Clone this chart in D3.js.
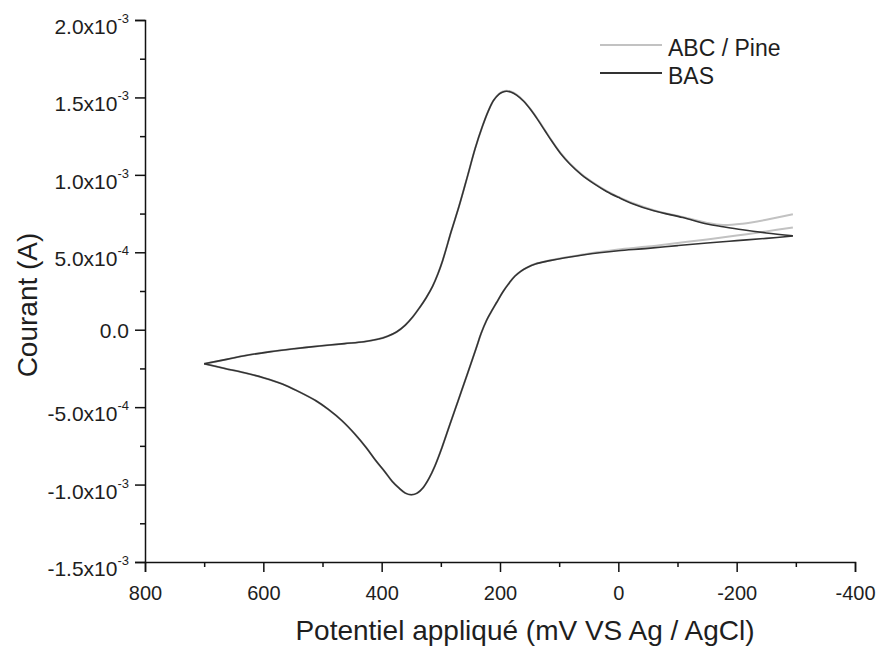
<!DOCTYPE html>
<html>
<head>
<meta charset="utf-8">
<script src="https://cdn.jsdelivr.net/npm/d3@7"></script>
<style>
  body { margin: 0; background: #fff; }
  svg text { font-family: "Liberation Sans", Arial, sans-serif; fill: #1e1e1e; }
</style>
</head>
<body>
<svg id="chart" width="881" height="646"></svg>
<script>
// Potentiel (mV vs Ag/AgCl) : balayage aller (700 -> -295) puis retour (-295 -> 700)
const potFwd = [700, 660, 632, 590, 548, 505, 463, 430, 407, 390, 375, 360, 348, 336, 325, 314, 305, 297, 282, 269, 255, 242, 230, 220, 211, 202, 195, 189, 182, 172, 160, 148, 136, 124, 112, 98, 82, 62, 40, 20, 0, -24, -60, -109, -150, -177, -210, -250, -295];
const potRev = [-295, -250, -200, -150, -100, -50, 0, 32, 60, 90, 116, 140, 155, 165, 175, 184, 195, 206, 215, 223, 232, 240, 255, 270, 285, 298, 310, 320, 330, 340, 350, 360, 370, 382, 395, 410, 426, 445, 467, 490, 511, 540, 568, 600, 632, 665, 700];

// Courant en unités de 1e-3 A
const basFwd = [-0.22, -0.19, -0.168, -0.143, -0.123, -0.105, -0.09, -0.078, -0.062, -0.042, -0.015, 0.03, 0.08, 0.142, 0.205, 0.28, 0.36, 0.446, 0.64, 0.8, 0.99, 1.17, 1.31, 1.41, 1.48, 1.52, 1.535, 1.54, 1.535, 1.515, 1.475, 1.42, 1.355, 1.285, 1.215, 1.14, 1.07, 1.0, 0.94, 0.893, 0.855, 0.814, 0.768, 0.724, 0.683, 0.665, 0.645, 0.625, 0.607];
const basRev = [0.605, 0.59, 0.575, 0.56, 0.543, 0.525, 0.51, 0.497, 0.483, 0.465, 0.446, 0.425, 0.4, 0.377, 0.345, 0.304, 0.245, 0.174, 0.115, 0.058, -0.025, -0.116, -0.285, -0.45, -0.615, -0.76, -0.88, -0.96, -1.02, -1.055, -1.066, -1.055, -1.025, -0.98, -0.915, -0.845, -0.762, -0.675, -0.588, -0.515, -0.459, -0.4, -0.35, -0.31, -0.278, -0.25, -0.22];
const abcFwd = [-0.22, -0.19, -0.168, -0.143, -0.123, -0.105, -0.09, -0.078, -0.062, -0.042, -0.015, 0.03, 0.08, 0.142, 0.205, 0.28, 0.36, 0.446, 0.64, 0.8, 0.99, 1.17, 1.31, 1.41, 1.48, 1.522, 1.538, 1.543, 1.538, 1.518, 1.478, 1.423, 1.358, 1.288, 1.218, 1.143, 1.073, 1.003, 0.943, 0.896, 0.858, 0.818, 0.772, 0.728, 0.69, 0.676, 0.685, 0.71, 0.745];
const abcRev = [0.66, 0.635, 0.608, 0.583, 0.56, 0.537, 0.518, 0.502, 0.485, 0.466, 0.447, 0.426, 0.4, 0.377, 0.345, 0.304, 0.245, 0.174, 0.115, 0.058, -0.025, -0.116, -0.285, -0.45, -0.615, -0.76, -0.88, -0.96, -1.02, -1.055, -1.066, -1.055, -1.025, -0.98, -0.915, -0.845, -0.762, -0.675, -0.588, -0.515, -0.459, -0.4, -0.35, -0.31, -0.278, -0.25, -0.22];

const seriesNames = ["ABC / Pine", "BAS"];
const seriesColors = ["#c2c2c2", "#333333"];

const xTicks = [800, 600, 400, 200, 0, -200, -400];
const xMinor = [700, 500, 300, 100, -100, -300];
const yTicks = [-1.5, -1.0, -0.5, 0, 0.5, 1.0, 1.5, 2.0];
const yMinor = [-1.25, -0.75, -0.25, 0.25, 0.75, 1.25, 1.75];

const xTitle = "Potentiel appliqué (mV VS Ag / AgCl)";
const yTitle = "Courant (A)";

const svg = d3.select("#chart");

const x = d3.scaleLinear().domain([800, -400]).range([145, 855]);
const y = d3.scaleLinear().domain([-1.5, 2.0]).range([562, 20]);

// axe X
const gx = svg.append("g").attr("transform", `translate(0,${y(-1.5)})`);
gx.call(d3.axisBottom(x).tickValues(xTicks).tickSize(10).tickPadding(14).tickFormat(d => d));
gx.selectAll(".tick text").style("font-size", "20px").attr("fill", "#1e1e1e");
gx.append("g").call(d3.axisBottom(x).tickValues(xMinor).tickSize(5).tickFormat(""))
  .select(".domain").remove();

// axe Y
const gy = svg.append("g").attr("transform", `translate(${x(800)},0)`);
gy.call(d3.axisLeft(y).tickValues(yTicks).tickSize(10).tickPadding(6));

// étiquettes de type 2.0x10^-3
gy.selectAll(".tick text").each(function(d) {
  const t = d3.select(this).text("").attr("fill", "#1e1e1e").style("font-size", "21px");
  if (d === 0) {
    t.attr("dy", "0.35em").text("0.0");
    return;
  }
  const parts = (d * 1e-3).toExponential(1).split("e");
  t.attr("dy", "0.64em");
  t.append("tspan").text(parts[0] + "x10");
  t.append("tspan").attr("dy", -11).style("font-size", "13px").text(parts[1]);
});

gy.append("g").call(d3.axisLeft(y).tickValues(yMinor).tickSize(5).tickFormat(""))
  .select(".domain").remove();

svg.selectAll(".domain, .tick line").attr("stroke", "#111").attr("stroke-width", 1.5);

// courbes
const line = d3.line()
  .x(d => x(d[0]))
  .y(d => y(d[1]))
  .curve(d3.curveCatmullRom.alpha(0.5));

const series = [
  [d3.zip(potFwd, abcFwd), d3.zip(potRev, abcRev)],
  [d3.zip(potFwd, basFwd), d3.zip(potRev, basRev)]
];

series.forEach((branches, i) => {
  svg.append("g").selectAll("path")
    .data(branches)
    .enter().append("path")
    .attr("d", line)
    .attr("fill", "none")
    .attr("stroke", seriesColors[i])
    .attr("stroke-width", i === 0 ? 2 : 1.6);
});

// légende
const legend = svg.append("g");
seriesNames.forEach((name, i) => {
  const ly = 45 + i * 28;
  legend.append("line")
    .attr("x1", 600).attr("x2", 662).attr("y1", ly).attr("y2", ly)
    .attr("stroke", seriesColors[i]).attr("stroke-width", 2);
  legend.append("text")
    .attr("x", 668).attr("y", ly + 11)
    .style("font-size", "23px")
    .text(name);
});

// titres des axes
svg.append("text")
  .attr("x", 525).attr("y", 640)
  .attr("text-anchor", "middle")
  .style("font-size", "28px")
  .text(xTitle);

svg.append("text")
  .attr("transform", "translate(37,305) rotate(-90)")
  .attr("text-anchor", "middle")
  .style("font-size", "28px")
  .text(yTitle);
</script>
</body>
</html>
